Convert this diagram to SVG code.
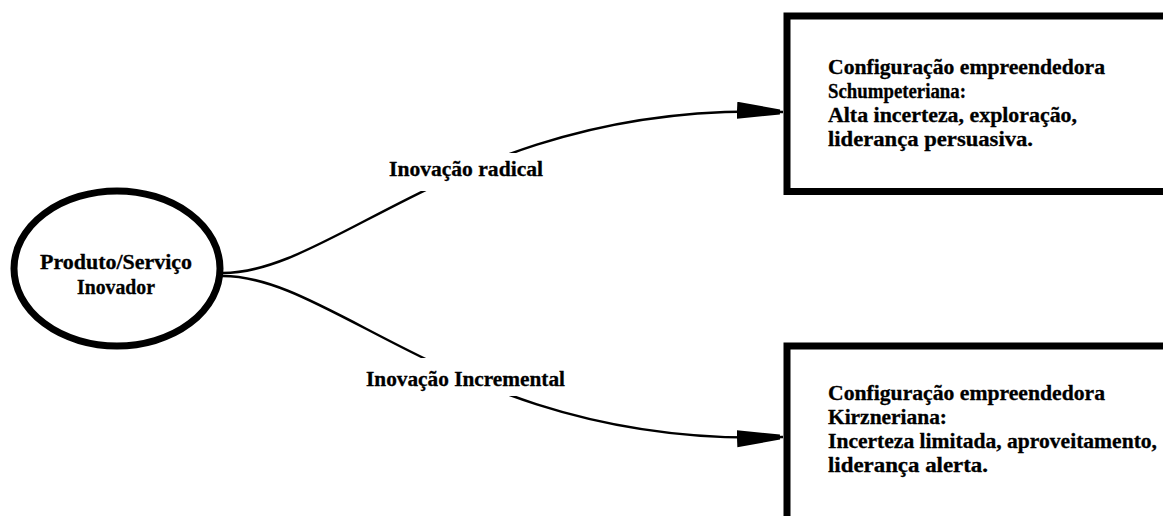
<svg xmlns="http://www.w3.org/2000/svg" width="1163" height="516" viewBox="0 0 1163 516">
<style>
  .t { font-family: "Liberation Serif", "Times New Roman", serif; font-weight: bold; font-size: 20px; fill: #000; stroke: #000; stroke-width: 0.3; }
  .box { fill: #fff; stroke: #000; stroke-width: 7; }
  .conn { fill: none; stroke: #000; stroke-width: 2.5; }
  .lblbg { fill: #fff; stroke: none; }
</style>
<defs>
  <marker id="arrow" markerUnits="userSpaceOnUse" markerWidth="50" markerHeight="20" viewBox="0 0 50 20" refX="46" refY="8.5" orient="auto">
    <path d="M0,0 L43,6 L43,11 L0,17 Z" fill="#000"/>
  </marker>
</defs>
<rect width="1163" height="516" fill="#fff"/>
<g id="connectors">
  <path class="conn" d="M220,273 C335,276 470,100 783,112" marker-end="url(#arrow)"/>
  <path class="conn" d="M220,276 C335,273 470,449 783,437" marker-end="url(#arrow)"/>
  <g id="label-radical">
    <rect class="lblbg" x="383" y="153" width="167" height="38"/>
    <text class="t" x="389" y="176" textLength="154" lengthAdjust="spacingAndGlyphs">Inovação radical</text>
  </g>
  <g id="label-incremental">
    <rect class="lblbg" x="360" y="358" width="210" height="38"/>
    <text class="t" x="366" y="386" textLength="199" lengthAdjust="spacingAndGlyphs">Inovação Incremental</text>
  </g>
</g>
<g id="node-produto">
  <ellipse cx="117" cy="268.5" rx="103" ry="77.5" fill="#fff" stroke="#000" stroke-width="7"/>
  <text class="t" x="40" y="269" textLength="152" lengthAdjust="spacingAndGlyphs">Produto/Serviço</text>
  <text class="t" x="77" y="294" textLength="78" lengthAdjust="spacingAndGlyphs">Inovador</text>
</g>
<g id="node-schumpeteriana">
  <rect class="box" x="787" y="16" width="400" height="175.5"/>
  <text class="t" x="828" y="74" textLength="277" lengthAdjust="spacingAndGlyphs">Configuração empreendedora</text>
  <text class="t" x="828" y="98" textLength="138" lengthAdjust="spacingAndGlyphs">Schumpeteriana:</text>
  <text class="t" x="828" y="122" textLength="249" lengthAdjust="spacingAndGlyphs">Alta incerteza, exploração,</text>
  <text class="t" x="828" y="146" textLength="205" lengthAdjust="spacingAndGlyphs">liderança persuasiva.</text>
</g>
<g id="node-kirzneriana">
  <rect class="box" x="787" y="346" width="400" height="200"/>
  <text class="t" x="828" y="400" textLength="277" lengthAdjust="spacingAndGlyphs">Configuração empreendedora</text>
  <text class="t" x="828" y="424" textLength="119" lengthAdjust="spacingAndGlyphs">Kirzneriana:</text>
  <text class="t" x="828" y="448" textLength="329" lengthAdjust="spacingAndGlyphs">Incerteza limitada, aproveitamento,</text>
  <text class="t" x="828" y="472" textLength="160" lengthAdjust="spacingAndGlyphs">liderança alerta.</text>
</g>
</svg>
